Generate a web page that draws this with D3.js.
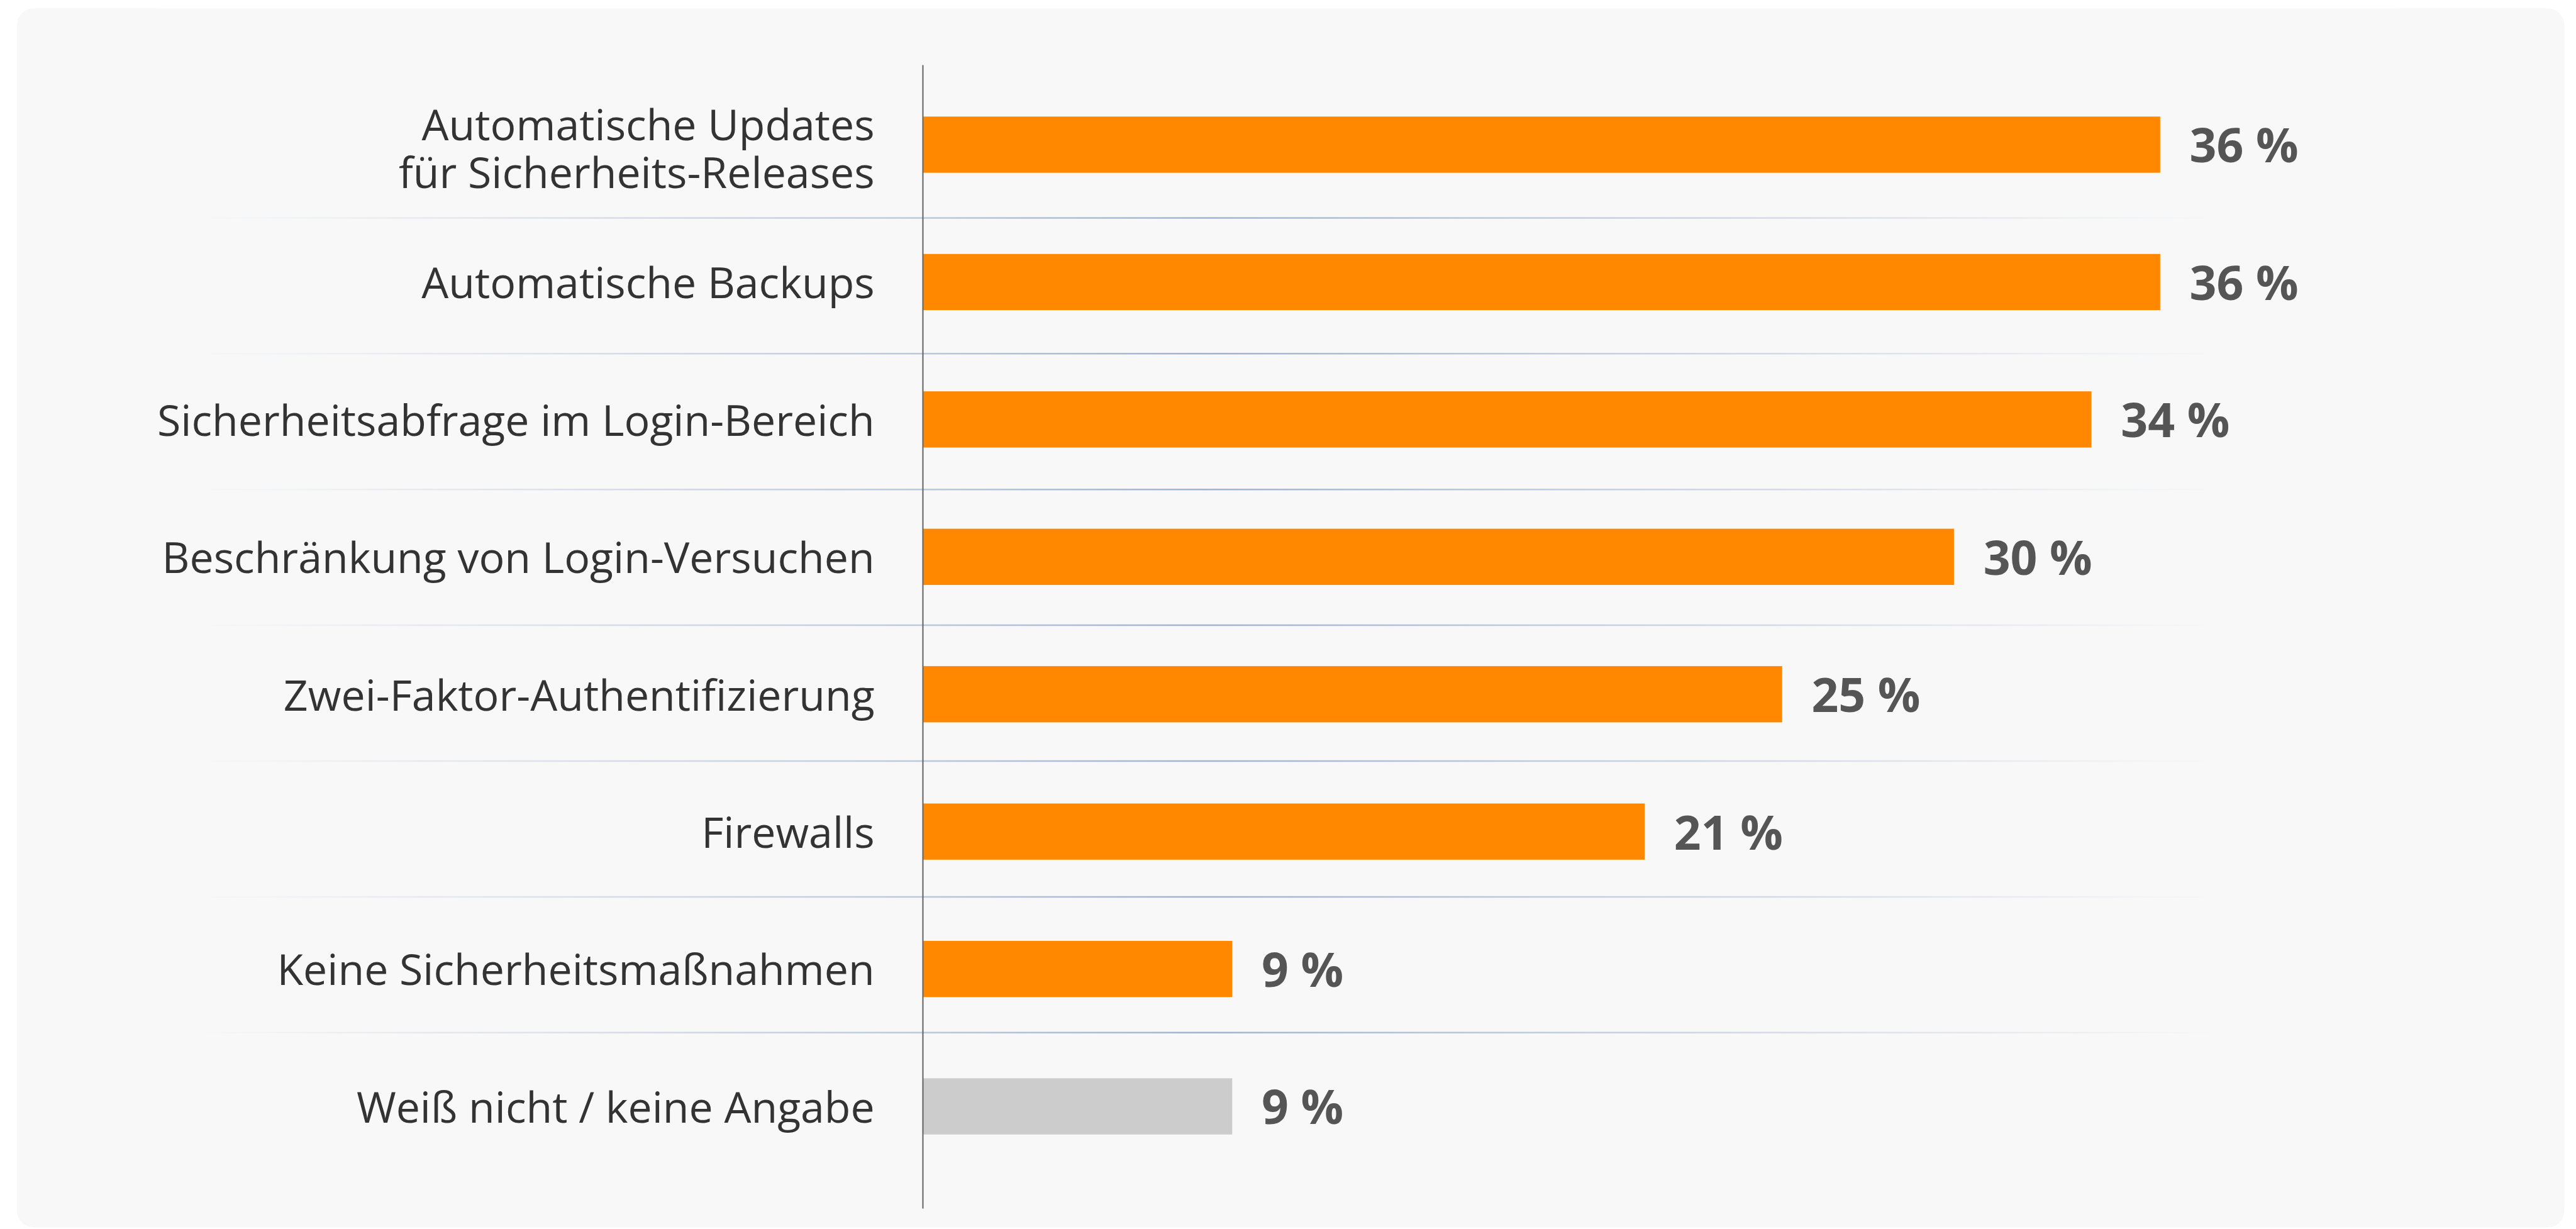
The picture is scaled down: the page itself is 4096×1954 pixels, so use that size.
<!DOCTYPE html>
<html>
<head>
<meta charset="utf-8">
<script src="https://cdn.jsdelivr.net/npm/d3@7"></script>
<style>
  html, body { margin: 0; padding: 0; background: #ffffff; }
  svg { display: block; }
</style>
</head>
<body>
<svg id="chart"></svg>
<script>
// data
const categories = [
  "Automatische Updates\nfür Sicherheits-Releases",
  "Automatische Backups",
  "Sicherheitsabfrage im Login-Bereich",
  "Beschränkung von Login-Versuchen",
  "Zwei-Faktor-Authentifizierung",
  "Firewalls",
  "Keine Sicherheitsmaßnahmen",
  "Weiß nicht / keine Angabe"
];
const values = [36, 36, 34, 30, 25, 21, 9, 9];
const barColors = ["#ff8800", "#ff8800", "#ff8800", "#ff8800", "#ff8800", "#ff8800", "#ff8800", "#cccccc"];

// reference size, scaled down to the window by the viewBox
const refW = 4907, refH = 2341;
const outW = 4096, outH = 1954;

const svg = d3.select("#chart")
  .attr("width", outW)
  .attr("height", outH)
  .attr("viewBox", "0 0 " + refW + " " + refH);

// background panel
svg.append("rect")
  .attr("x", 32).attr("y", 16)
  .attr("width", 4853).attr("height", 2322)
  .attr("rx", 32).attr("ry", 32)
  .attr("fill", "#f8f8f8");

const x = d3.scaleLinear()
  .domain([0, 36])
  .range([1758, 4115]);

const y = d3.scaleBand()
  .domain(d3.range(categories.length))
  .range([144.7, 2238.3])
  .paddingInner(0.591)
  .paddingOuter(0.2955);

// separator lines sit a touch tighter than the bars
const sepY = d3.scaleLinear()
  .domain([0, categories.length - 2])
  .range([415, 1967]);

const defs = svg.append("defs");
const grad = defs.append("linearGradient")
  .attr("id", "sepGrad")
  .attr("gradientUnits", "userSpaceOnUse")
  .attr("x1", 372).attr("x2", 4225)
  .attr("y1", 0).attr("y2", 0);
grad.append("stop").attr("offset", "0%").attr("stop-color", "#a9b9d2").attr("stop-opacity", 0);
grad.append("stop").attr("offset", "50%").attr("stop-color", "#a2b3ce").attr("stop-opacity", 1);
grad.append("stop").attr("offset", "100%").attr("stop-color", "#a9b9d2").attr("stop-opacity", 0);

svg.append("g")
  .selectAll("line")
  .data(d3.range(categories.length - 1))
  .join("line")
    .attr("x1", 372)
    .attr("x2", 4225)
    .attr("y1", d => sepY(d))
    .attr("y2", d => sepY(d))
    .attr("stroke", "url(#sepGrad)")
    .attr("stroke-width", 3);

// bars
svg.append("g")
  .selectAll("rect")
  .data(values)
  .join("rect")
    .attr("x", x(0))
    .attr("y", (d, i) => y(i))
    .attr("width", d => x(d) - x(0))
    .attr("height", y.bandwidth())
    .attr("fill", (d, i) => barColors[i]);

// vertical axis line
svg.append("line")
  .attr("x1", x(0)).attr("x2", x(0))
  .attr("y1", 124).attr("y2", 2302)
  .attr("stroke", "#666666")
  .attr("stroke-width", 2.5);

// category labels
const lineH = 91;
const labels = svg.append("g")
  .attr("font-family", "'Open Sans', sans-serif")
  .attr("font-size", 81.5)
  .attr("fill", "#333333")
  .attr("text-anchor", "end");

categories.forEach(function(cat, i) {
  const lines = cat.split("\n");
  const cy = y(i) + y.bandwidth() / 2;
  const shift = lines.length > 1 ? 6 : 0;
  const t = labels.append("text");
  lines.forEach(function(line, j) {
    t.append("tspan")
      .attr("x", 1666)
      .attr("y", cy + 31 + shift + (j - (lines.length - 1) / 2) * lineH)
      .text(line);
  });
});

// value labels
svg.append("g")
  .attr("font-family", "'Open Sans', sans-serif")
  .attr("font-size", 90)
  .attr("font-weight", 700)
  .attr("fill", "#555555")
  .selectAll("text")
  .data(values)
  .join("text")
    .attr("x", d => x(d) + 56)
    .attr("y", (d, i) => y(i) + y.bandwidth() / 2 + 34)
    .text(d => d + " %");
</script>
</body>
</html>
